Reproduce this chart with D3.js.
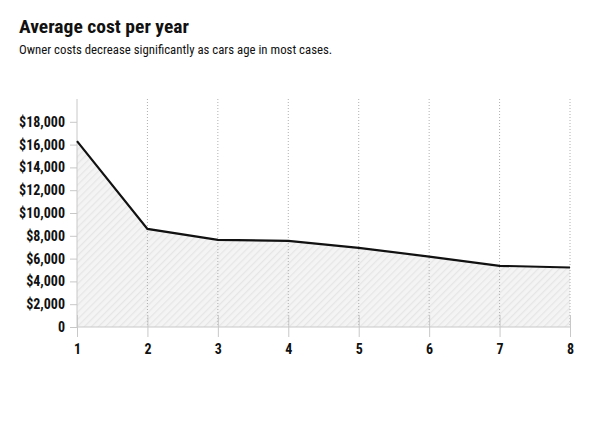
<!DOCTYPE html>
<html>
<head>
<meta charset="utf-8">
<script src="https://cdn.jsdelivr.net/npm/d3@7"></script>
<style>
  body { margin: 0; background: #fff; }
  svg text { font-family: "Liberation Sans Narrow", "Arial Narrow", "Roboto Condensed", sans-serif; fill: #111; }
  .title { font-size: 18px; font-weight: bold; }
  .sub { font-size: 12.8px; }
  .axis text { font-size: 14px; font-weight: bold; }
  .axis path, .axis line { stroke: #c8c8c8; }
</style>
</head>
<body>
<svg id="chart" width="598" height="436"></svg>
<script>
// Average yearly owner cost by car age (years 1–8)
const years = [1, 2, 3, 4, 5, 6, 7, 8];
const costs = [16300, 8600, 7640, 7560, 6940, 6180, 5370, 5220];
const yTicks = [0, 2000, 4000, 6000, 8000, 10000, 12000, 14000, 16000, 18000];

const svg = d3.select("#chart");
const margin = { top: 99, right: 28, bottom: 109, left: 77 };
const width = 598, height = 436;

svg.append("text").attr("class", "title").attr("x", 19).attr("y", 33)
  .attr("textLength", 170).attr("lengthAdjust", "spacingAndGlyphs")
  .text("Average cost per year");
svg.append("text").attr("class", "sub").attr("x", 19).attr("y", 54)
  .text("Owner costs decrease significantly as cars age in most cases.");

const x = d3.scaleLinear().domain([1, 8]).range([margin.left, width - margin.right]);
const y = d3.scaleLinear().domain([0, 20000]).range([height - margin.bottom, margin.top]);

// hatched fill pattern
const pat = svg.append("defs").append("pattern")
  .attr("id", "hatch").attr("patternUnits", "userSpaceOnUse")
  .attr("width", 5).attr("height", 5).attr("patternTransform", "rotate(45)");
pat.append("rect").attr("width", 5).attr("height", 5).attr("fill", "#f4f4f4");
pat.append("line").attr("x1", 0).attr("y1", 0).attr("x2", 0).attr("y2", 5)
  .attr("stroke", "#e6e6e6").attr("stroke-width", 2.5);

const data = years.map((yr, i) => ({ yr, v: costs[i] }));

svg.append("path").datum(data)
  .attr("fill", "url(#hatch)")
  .attr("d", d3.area().x((d) => x(d.yr)).y0(y(0)).y1((d) => y(d.v)));

// dotted vertical grid
svg.append("g").selectAll("line").data(years.slice(1)).join("line")
  .attr("x1", (d) => x(d)).attr("x2", (d) => x(d))
  .attr("y1", margin.top).attr("y2", y(0))
  .attr("stroke", "#b0b0b0").attr("stroke-dasharray", "1,2");

// y axis
const ya = svg.append("g").attr("class", "axis")
  .attr("transform", `translate(${margin.left},0)`)
  .call(d3.axisLeft(y).tickValues(yTicks).tickSize(7).tickPadding(5)
    .tickFormat((d) => d === 0 ? "0" : "$" + d3.format(",")(d)));
ya.select(".domain").attr("d", `M0,${margin.top}V${y(0)}`);

// x axis (ticks cross the baseline)
const xa = svg.append("g").attr("class", "axis")
  .attr("transform", `translate(0,${y(0)})`)
  .call(d3.axisBottom(x).tickValues(years).tickSize(10).tickPadding(7).tickFormat(d3.format("d")));
xa.select(".domain").attr("d", `M${margin.left},0H${width - margin.right}`);
xa.selectAll(".tick line").attr("y1", -12);

// cost line
svg.append("path").datum(data)
  .attr("fill", "none").attr("stroke", "#111").attr("stroke-width", 2.2)
  .attr("d", d3.line().x((d) => x(d.yr)).y((d) => y(d.v)));
</script>
</body>
</html>
